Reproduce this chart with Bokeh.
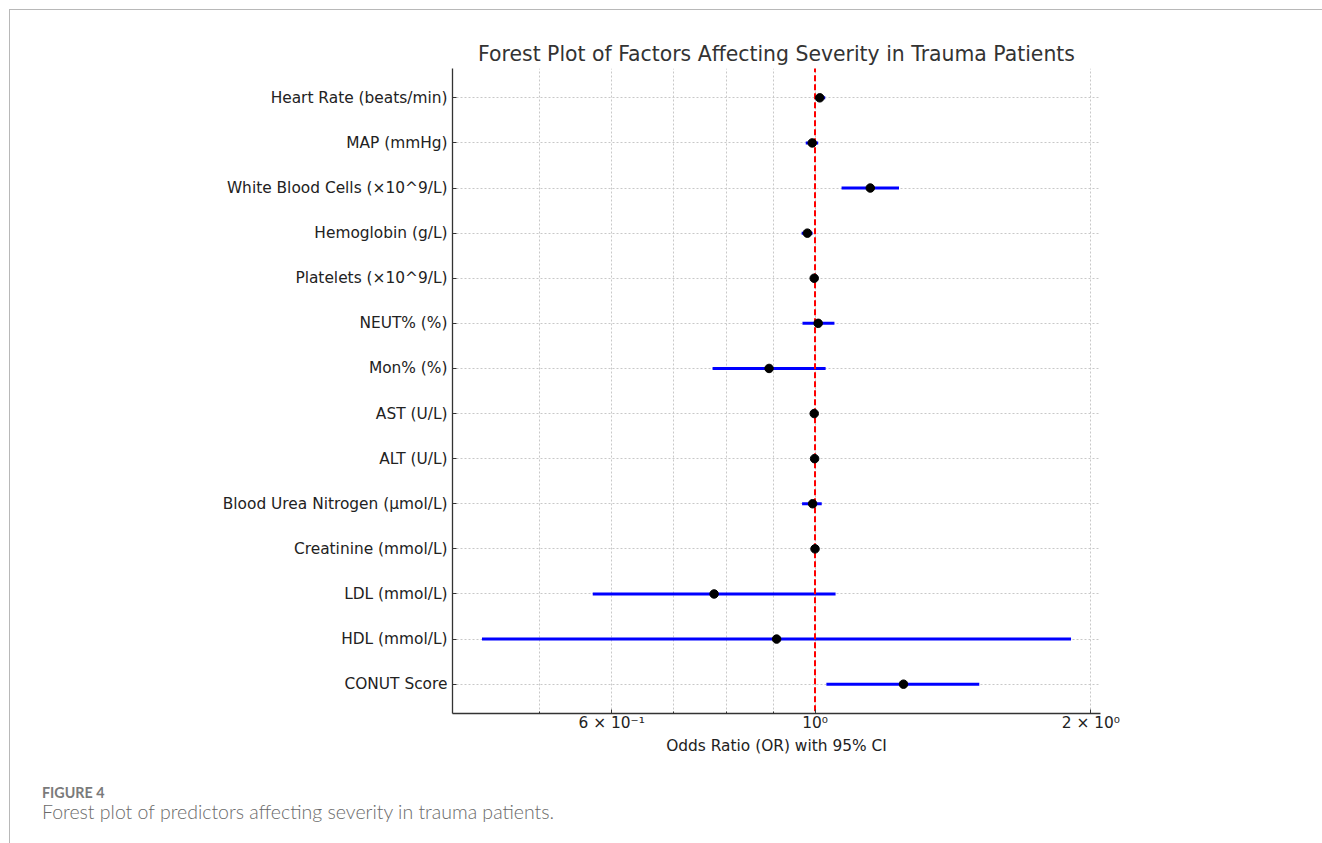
import numpy as np
from bokeh.plotting import figure
from bokeh.models import FactorRange, Range1d, FixedTicker, Div
from bokeh.layouts import column
from bokeh.embed import file_html
from bokeh.resources import INLINE

factors = ["Heart Rate (beats/min)", "MAP (mmHg)", "White Blood Cells (×10^9/L)",
           "Hemoglobin (g/L)", "Platelets (×10^9/L)", "NEUT% (%)", "Mon% (%)",
           "AST (U/L)", "ALT (U/L)", "Blood Urea Nitrogen (µmol/L)",
           "Creatinine (mmol/L)", "LDL (mmol/L)", "HDL (mmol/L)", "CONUT Score"]
odds_ratio = [1.012, 0.993, 1.149, 0.981, 0.998, 1.008, 0.891, 0.998, 0.999, 0.994, 1.000, 0.776, 0.908, 1.249]
ci_lower = [0.999, 0.977, 1.069, 0.967, 0.996, 0.969, 0.773, 0.996, 0.997, 0.968, 0.999, 0.572, 0.433, 1.029]
ci_upper = [1.026, 1.008, 1.235, 0.994, 0.999, 1.050, 1.027, 1.000, 1.001, 1.017, 1.001, 1.053, 1.903, 1.511]
x_major_ticks = [0.6, 1.0, 2.0]
x_minor_ticks = [0.5, 0.7, 0.8, 0.9]
x_tick_labels = ["6 × 10⁻¹", "10⁰", "2 × 10⁰"]

# 5% log-space margins like matplotlib
lo, hi = np.log10(min(ci_lower)), np.log10(max(ci_upper))
m = 0.05 * (hi - lo)
x_start, x_end = 10 ** (lo - m), 10 ** (hi + m)

p = figure(
    y_range=FactorRange(factors=list(reversed(factors)), range_padding=0.15,
                        range_padding_units="absolute"),
    x_axis_type="log", x_range=Range1d(x_start, x_end),
    frame_width=648, frame_height=645,
    min_border_left=442, min_border_right=205, min_border_top=58, min_border_bottom=55,
    output_backend="svg", toolbar_location=None,
    title="Forest Plot of Factors Affecting Severity in Trauma Patients",
)
p.outline_line_color = None
p.title.align = "center"
p.title.text_font = "DejaVu Sans"
p.title.text_font_size = "20.4px"
p.title.text_font_style = "normal"
p.title.text_color = "#333333"
p.title.offset = 0
p.title.standoff = 5

for ax in (p.xaxis, p.yaxis):
    ax.axis_line_color = "#333333"
    ax.axis_line_width = 1.3
    ax.major_tick_line_color = "#333333"
    ax.minor_tick_line_color = "#333333"
    ax.major_label_text_font = "DejaVu Sans"
    ax.major_label_text_font_size = "15.4px"
    ax.major_label_text_color = "#222222"

p.yaxis.major_tick_in = 4
p.yaxis.major_tick_out = 0
p.yaxis.major_label_standoff = 5
p.yaxis.minor_tick_line_color = None

p.xaxis.ticker = FixedTicker(ticks=x_major_ticks, minor_ticks=x_minor_ticks)
p.xaxis.major_label_overrides = dict(zip(x_major_ticks, x_tick_labels))
p.xaxis.major_tick_in = 4
p.xaxis.major_tick_out = 0
p.xaxis.minor_tick_in = 2
p.xaxis.minor_tick_out = 0
p.xaxis.major_label_standoff = 0
p.xaxis.axis_label = "Odds Ratio (OR) with 95% CI"
p.xaxis.axis_label_text_font = "DejaVu Sans"
p.xaxis.axis_label_text_font_size = "15.4px"
p.xaxis.axis_label_text_font_style = "normal"
p.xaxis.axis_label_text_color = "#222222"
p.xaxis.axis_label_standoff = 2

for g in (p.xgrid, p.ygrid):
    g.grid_line_color = "#c8c8c8"
    g.grid_line_dash = "2 2"
    g.grid_line_width = 1
p.xgrid.minor_grid_line_color = "#c8c8c8"
p.xgrid.minor_grid_line_dash = "2 2"

p.segment(x0=ci_lower, x1=ci_upper, y0=factors, y1=factors, line_color="#0000ff", line_width=3)
p.segment(x0=[1.0], x1=[1.0], y0=[(factors[0], 1.5)], y1=[(factors[-1], -1.5)],
          line_color="#ff0000", line_width=2, line_dash="6 3")
p.scatter(x=odds_ratio, y=factors, size=8.5, fill_color="black", line_color="black")

caption = Div(
    text=('<div style="font-family:Lato, sans-serif; font-size:14.3px; font-weight:bold; '
          'color:#7a7a7a; line-height:17px;">FIGURE 4</div>'
          '<div style="font-family:Lato, sans-serif; font-size:19.5px; color:#6a6a6a; '
          'font-weight:300; line-height:21px;">Forest plot of predictors affecting severity in trauma patients.</div>'),
    width=1313, height=70, styles={"padding-left": "27px", "padding-top": "11px"},
)

layout = column(p, caption, spacing=0, margin=(9, 0, 0, 9),
                styles={"border-top": "1px solid #b8b8b8", "border-left": "1px solid #b8b8b8"})

open("out.html", "w").write(file_html(layout, INLINE))
